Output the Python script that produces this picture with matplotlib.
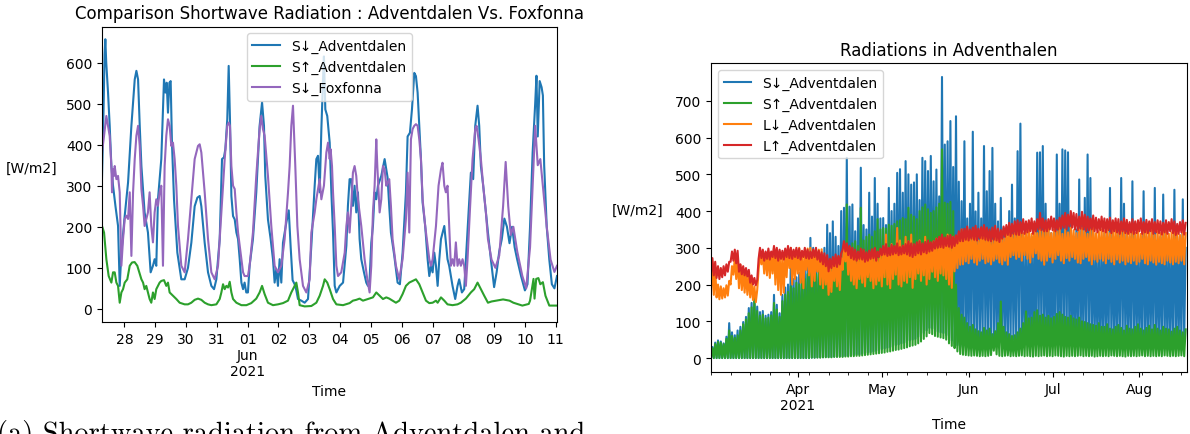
import numpy as np
import matplotlib
matplotlib.use("Agg")
import matplotlib.pyplot as plt

# ------------------------------------------------------------------
# Left panel: (hours since 2021-05-28 00:00, W/m2)
# ------------------------------------------------------------------
sd_adventdalen = [
    (-17.5, 320), (-16.5, 450), (-15.5, 620), (-14.9, 657), (-14.2, 600), (-12.8, 527), (-11.5, 446),
    (-10.2, 348), (-8.9, 300), (-7.0, 250), (-5.0, 202), (-3.7, 56), (-2.4, 137), (0.2, 227), (2.8, 308),
    (5.4, 446), (8.0, 559), (9.3, 580), (10.6, 559), (11.9, 446), (13.2, 348), (14.5, 290), (15.7, 235),
    (18.3, 186), (20.4, 89), (22.2, 105), (23.5, 121), (24.8, 105), (26.1, 267), (28.7, 365), (30.8, 559),
    (31.9, 527), (32.9, 551), (33.9, 478), (35.0, 551), (36.0, 555), (37.0, 405), (38.6, 267), (41.2, 137),
    (44.3, 72), (46.9, 72), (49.5, 100), (52.1, 161), (54.7, 250), (56.8, 271), (58.6, 275), (59.9, 250),
    (62.5, 161), (65.1, 89), (67.7, 56), (69.8, 48), (71.6, 72), (74.2, 170), (76.0, 365), (77.5, 369),
    (78.6, 389), (80.1, 462), (81.2, 592), (82.2, 462), (83.3, 275), (84.6, 226), (85.9, 218), (87.2, 186),
    (88.5, 170), (89.8, 121), (91.1, 64), (92.4, 48), (93.6, 64), (94.9, 40), (96.2, 40), (97.5, 105),
    (100.1, 170), (102.7, 284), (105.3, 446), (107.2, 503), (108.7, 446), (109.7, 324), (111.8, 218),
    (113.9, 170), (115.7, 121), (117.0, 64), (118.3, 97), (119.6, 56), (120.9, 121), (122.2, 64),
    (123.5, 161), (126.1, 210), (128.0, 240), (129.5, 150), (131.0, 70), (132.6, 60), (133.9, 45),
    (135.2, 24), (137.8, 20), (140.4, 15), (143.0, 24), (145.6, 154), (148.2, 300), (149.5, 365),
    (150.8, 373), (152.1, 284), (153.4, 437), (154.7, 559), (155.4, 615), (156.5, 486), (158.0, 470),
    (159.9, 405), (161.2, 284), (162.5, 186), (163.8, 56), (165.1, 40), (166.4, 48), (167.7, 56),
    (170.3, 64), (172.9, 154), (174.1, 251), (175.4, 316), (176.7, 316), (178.0, 251), (179.3, 300),
    (180.6, 235), (181.9, 284), (183.2, 170), (184.5, 121), (186.6, 89), (188.4, 64), (189.7, 56),
    (191.0, 72), (192.3, 161), (193.6, 202), (194.9, 284), (196.2, 267), (197.5, 300), (200.1, 324),
    (202.7, 365), (205.0, 320), (206.3, 250), (207.6, 186), (210.2, 130), (212.8, 64), (214.6, 60),
    (216.7, 137), (219.3, 284), (220.6, 420), (222.4, 429), (224.0, 486), (225.8, 575), (227.1, 567),
    (228.4, 527), (229.7, 446), (231.0, 365), (232.3, 259), (234.3, 202), (236.2, 121), (237.5, 80),
    (238.8, 105), (240.1, 89), (241.4, 137), (242.7, 105), (244.0, 56), (245.3, 121), (246.6, 170),
    (249.2, 202), (251.7, 121), (253.0, 105), (255.6, 56), (257.7, 24), (259.5, 56), (260.8, 72),
    (262.9, 40), (264.7, 48), (266.0, 121), (268.1, 235), (269.9, 332), (271.7, 316), (273.3, 446),
    (275.1, 495), (276.4, 446), (277.7, 348), (279.5, 300), (281.6, 235), (283.2, 186), (285.5, 120),
    (288.0, 53), (290.0, 90), (292.0, 140), (294.0, 170), (296.0, 220), (298.0, 200), (300.0, 160),
    (302.0, 200), (304.0, 150), (306.0, 120), (309.0, 80), (312.0, 45), (314.0, 60), (316.0, 200),
    (318.0, 380), (320.0, 500), (321.0, 568), (322.0, 420), (323.5, 555), (325.0, 540), (326.0, 520),
    (327.0, 350), (329.0, 200), (331.0, 120), (333.0, 60), (335.0, 50), (337.0, 80),
]

su_adventdalen = [
    (-17.5, 202), (-15.9, 186), (-14.1, 121), (-12.3, 80), (-10.2, 64), (-8.9, 89), (-7.6, 89), (-6.3, 64),
    (-5.0, 56), (-3.7, 15), (-2.4, 40), (-1.1, 48), (0.2, 64), (2.2, 72), (4.1, 105), (5.9, 113), (7.9, 114),
    (10.0, 105), (11.9, 85), (13.2, 72), (14.5, 64), (15.7, 48), (17.0, 56), (18.3, 40), (19.6, 24),
    (20.9, 15), (22.2, 40), (23.5, 24), (24.8, 48), (26.1, 56), (27.4, 64), (28.7, 68), (30.8, 70),
    (32.6, 56), (33.9, 64), (35.2, 40), (37.8, 32), (40.4, 24), (43.0, 15), (46.9, 11), (49.5, 11),
    (52.1, 15), (54.7, 22), (57.3, 25), (59.9, 22), (62.5, 15), (65.1, 11), (67.7, 9), (71.6, 11),
    (74.2, 24), (75.5, 40), (76.8, 60), (78.1, 48), (79.4, 56), (80.7, 52), (82.0, 66), (83.3, 40),
    (84.6, 24), (87.2, 15), (91.1, 9), (95.0, 9), (98.8, 14), (102.7, 25), (105.3, 40), (107.2, 56),
    (109.2, 36), (111.8, 15), (115.7, 9), (119.6, 11), (123.5, 14), (127.4, 20), (130.0, 40), (132.6, 56),
    (133.9, 64), (135.2, 40), (136.5, 9), (140.4, 6), (145.6, 7), (149.5, 15), (152.1, 32), (154.7, 56),
    (156.0, 72), (158.0, 64), (159.9, 48), (162.5, 24), (165.1, 11), (170.3, 9), (175.4, 14), (178.0, 20),
    (180.6, 22), (183.2, 25), (185.8, 20), (189.7, 24), (193.6, 28), (196.2, 40), (198.8, 32), (201.4, 24),
    (204.0, 28), (206.3, 25), (208.9, 20), (211.5, 15), (214.1, 20), (216.7, 36), (219.3, 56), (221.9, 64),
    (224.5, 68), (227.1, 72), (229.7, 60), (232.3, 40), (234.9, 20), (237.5, 14), (240.1, 15), (242.7, 20),
    (244.0, 15), (246.6, 28), (249.2, 20), (251.7, 11), (255.6, 9), (259.5, 11), (262.1, 15), (266.0, 25),
    (269.9, 40), (272.5, 48), (275.1, 64), (277.7, 48), (280.3, 32), (283.2, 15), (286.0, 18), (289.5, 20),
    (295.0, 23), (300.0, 20), (303.0, 15), (306.0, 12), (310.0, 8), (315.0, 12), (316.0, 20), (317.5, 49),
    (318.7, 73), (319.5, 25), (320.8, 73), (322.5, 75), (324.0, 60), (326.0, 65), (328.0, 32), (331.0, 8),
    (337.0, 8),
]

sd_foxfonna = [
    (-17.5, 381), (-16.2, 414), (-14.1, 470), (-12.8, 446), (-11.5, 421), (-10.2, 348), (-9.7, 284),
    (-8.9, 340), (-8.1, 324), (-7.6, 348), (-6.3, 316), (-5.0, 324), (-3.7, 284), (-2.4, 105), (-1.1, 170),
    (0.2, 219), (1.5, 227), (2.8, 219), (4.1, 284), (5.4, 129), (6.7, 284), (8.0, 365), (9.3, 422),
    (10.6, 446), (11.9, 397), (13.2, 292), (14.5, 251), (15.7, 202), (17.0, 219), (18.3, 235), (19.6, 284),
    (20.9, 202), (22.2, 162), (23.5, 235), (24.8, 267), (26.1, 251), (27.4, 284), (28.7, 300), (30.0, 105),
    (31.3, 348), (32.6, 422), (33.9, 462), (35.2, 446), (36.5, 397), (37.8, 405), (39.1, 365), (40.4, 300),
    (41.7, 202), (44.3, 105), (46.9, 89), (49.5, 170), (52.1, 267), (54.7, 365), (57.3, 397), (58.6, 401),
    (59.9, 381), (62.5, 284), (65.1, 170), (67.7, 89), (70.3, 72), (72.9, 105), (75.5, 235), (78.1, 365),
    (80.1, 446), (81.2, 454), (82.2, 446), (83.3, 348), (84.6, 300), (85.9, 292), (87.2, 235), (88.5, 186),
    (91.1, 121), (92.4, 89), (93.6, 80), (96.2, 80), (97.5, 105), (100.1, 186), (102.7, 324), (105.3, 438),
    (106.6, 470), (107.9, 438), (109.2, 422), (111.8, 324), (114.4, 202), (117.0, 105), (119.6, 89),
    (122.2, 105), (124.8, 170), (127.4, 283), (128.7, 348), (130.0, 446), (131.3, 495), (132.1, 430),
    (133.1, 348), (134.7, 202), (136.5, 121), (139.1, 56), (141.7, 40), (144.3, 72), (145.6, 186),
    (146.9, 210), (148.2, 235), (149.5, 267), (152.1, 316), (153.4, 267), (155.4, 300), (157.3, 381),
    (158.6, 405), (159.9, 365), (160.6, 389), (161.7, 348), (162.5, 284), (163.8, 202), (165.1, 105),
    (166.4, 80), (168.9, 89), (171.6, 137), (172.9, 202), (174.1, 235), (175.4, 186), (176.7, 251),
    (178.0, 332), (179.3, 348), (180.6, 324), (181.9, 267), (184.5, 202), (187.1, 121), (189.2, 72),
    (191.0, 40), (192.3, 105), (193.6, 235), (194.9, 300), (196.2, 413), (197.0, 348), (198.8, 235),
    (200.1, 267), (201.4, 348), (202.7, 340), (204.0, 300), (205.0, 308), (206.3, 316), (207.6, 251),
    (208.9, 170), (211.5, 105), (214.1, 72), (216.7, 121), (219.3, 219), (220.6, 332), (221.9, 186),
    (223.2, 413), (224.5, 438), (225.8, 446), (227.1, 450), (228.4, 446), (229.7, 413), (231.0, 365),
    (232.3, 267), (234.3, 202), (236.2, 154), (237.5, 121), (238.8, 105), (240.1, 121), (241.4, 162),
    (242.7, 202), (244.7, 300), (246.6, 340), (247.8, 356), (249.2, 300), (250.4, 284), (251.7, 300),
    (253.0, 202), (254.3, 105), (255.6, 121), (256.9, 105), (258.2, 162), (259.5, 105), (260.8, 121),
    (262.1, 105), (263.4, 121), (264.7, 105), (266.0, 56), (267.3, 121), (269.2, 243), (271.2, 365),
    (273.3, 438), (274.3, 446), (275.9, 413), (277.7, 365), (279.5, 300), (281.6, 235), (283.2, 170),
    (286.0, 120), (289.0, 100), (292.0, 130), (295.0, 250), (297.0, 358), (299.0, 250), (301.0, 180),
    (303.0, 200), (306.0, 140), (310.0, 80), (313.0, 50), (316.0, 150), (318.0, 300), (320.0, 446),
    (322.0, 350), (324.0, 365), (326.0, 300), (329.0, 200), (332.0, 120), (335.0, 90), (337.0, 105),
]

left_day_labels = ["28", "29", "30", "31", "01\nJun\n2021", "02", "03", "04", "05", "06",
                   "07", "08", "09", "10", "11"]

# ------------------------------------------------------------------
# Right panel: daily minimum / maximum, one value per day from 2021-03-01
# ------------------------------------------------------------------
s_down_max = [
    30, 42, 48, 45, 40, 58, 95, 70, 62, 75,
    85, 98, 112, 136, 150, 170, 140, 125, 128, 115,
    118, 125, 172, 145, 122, 172, 192, 200, 263, 215,
    220, 232, 218, 240, 262, 327, 300, 252, 245, 282,
    300, 363, 340, 372, 330, 305, 400, 409, 545, 412,
    418, 345, 380, 518, 362, 350, 450, 385, 490, 420,
    380, 381, 362, 463, 400, 420, 504, 514, 450, 536,
    500, 472, 478, 500, 430, 545, 536, 509, 550, 481,
    513, 440, 765, 581, 590, 645, 520, 658, 480, 427,
    590, 380, 420, 616, 399, 450, 380, 577, 454, 509,
    572, 420, 372, 436, 354, 330, 400, 472, 380, 563,
    638, 336, 300, 340, 330, 320, 559, 560, 577, 420,
    360, 340, 350, 554, 420, 568, 565, 560, 380, 330,
    350, 486, 360, 436, 554, 490, 340, 300, 320, 310,
    340, 330, 463, 350, 330, 360, 490, 420, 350, 330,
    481, 340, 320, 300, 454, 330, 350, 340, 463, 320,
    330, 445, 310, 320, 300, 458, 330, 310, 432, 300,
]
s_down_min = [
    0, 0, 0, 0, 0, 0, 0, 0, 0, 0,
    0, 0, 0, 0, 0, 0, 0, 0, 0, 0,
    0, 0, 0, 0, 0, 0, 0, 0, 0, 0,
    0, 0, 0, 0, 0, 0, 1, 1, 2, 2,
    2, 3, 3, 3, 4, 4, 5, 5, 6, 6,
    8, 8, 10, 10, 12, 13, 15, 16, 18, 20,
    22, 24, 26, 28, 30, 32, 35, 37, 40, 42,
    45, 48, 50, 52, 58, 62, 68, 75, 82, 80,
    75, 72, 70, 68, 62, 55, 48, 40, 35, 30,
    32, 35, 40, 38, 45, 42, 50, 48, 40, 45,
    50, 42, 38, 45, 52, 48, 40, 45, 50, 42,
    48, 55, 45, 40, 50, 48, 42, 52, 45, 50,
    48, 40, 45, 52, 48, 42, 50, 45, 40, 48,
    52, 45, 40, 48, 50, 42, 45, 52, 48, 40,
    45, 50, 42, 48, 40, 45, 52, 48, 42, 45,
    40, 48, 45, 50, 42, 40, 48, 45, 52, 40,
    45, 42, 48, 40, 45, 50, 42, 40, 45, 48,
]
s_up_max = [
    27, 38, 44, 42, 38, 52, 75, 60, 55, 62,
    75, 92, 105, 122, 138, 160, 128, 115, 118, 108,
    110, 116, 150, 132, 112, 155, 172, 180, 195, 190,
    205, 200, 210, 215, 228, 240, 232, 228, 242, 250,
    258, 255, 262, 265, 270, 275, 280, 288, 418, 300,
    312, 318, 305, 409, 320, 330, 336, 330, 345, 378,
    350, 354, 352, 363, 360, 365, 372, 375, 381, 378,
    409, 390, 385, 378, 400, 410, 418, 405, 395, 400,
    410, 420, 568, 423, 420, 425, 400, 200, 136, 118,
    110, 95, 85, 90, 78, 73, 70, 82, 75, 80,
    65, 73, 95, 154, 85, 70, 65, 60, 62, 70,
    80, 95, 127, 108, 110, 125, 130, 115, 118, 110,
    115, 108, 112, 120, 125, 118, 112, 110, 115, 108,
    105, 110, 100, 98, 95, 92, 90, 88, 95, 85,
    85, 92, 80, 78, 85, 90, 82, 75, 88, 80,
    78, 85, 92, 80, 75, 82, 88, 78, 90, 80,
    75, 85, 80, 78, 72, 80, 85, 75, 70, 78,
]
s_up_min = [
    0, 0, 0, 0, 0, 0, 0, 0, 0, 0,
    0, 0, 0, 0, 0, 0, 0, 0, 0, 0,
    0, 0, 0, 0, 0, 0, 0, 0, 0, 0,
    0, 0, 0, 0, 0, 0, 1, 1, 1, 1,
    2, 2, 2, 2, 3, 3, 3, 3, 4, 4,
    5, 5, 6, 6, 7, 8, 9, 10, 11, 12,
    13, 14, 15, 17, 18, 20, 22, 23, 25, 27,
    29, 32, 34, 36, 40, 45, 52, 59, 68, 65,
    60, 58, 56, 54, 50, 40, 33, 27, 18, 11,
    9, 8, 7, 6, 7, 6, 5, 6, 5, 6,
    8, 20, 10, 6, 5, 6, 7, 5, 6, 5,
    6, 7, 5, 6, 5, 4, 6, 5, 6, 7,
    5, 6, 5, 7, 6, 5, 4, 6, 5, 6,
    5, 6, 7, 5, 6, 5, 6, 4, 5, 6,
    5, 6, 5, 7, 6, 5, 6, 5, 4, 6,
    5, 6, 5, 6, 7, 5, 6, 5, 6, 5,
    6, 5, 7, 6, 5, 6, 5, 6, 7, 5,
]
l_down_max = [
    262, 240, 200, 195, 190, 198, 210, 250, 272, 268,
    254, 240, 232, 228, 209, 195, 185, 290, 285, 282,
    288, 281, 300, 295, 290, 282, 288, 298, 300, 290,
    295, 300, 285, 290, 298, 300, 292, 288, 295, 296,
    272, 265, 245, 262, 270, 268, 272, 309, 305, 300,
    290, 285, 270, 282, 291, 278, 285, 280, 290, 270,
    285, 300, 336, 290, 310, 300, 354, 320, 305, 330,
    318, 336, 300, 310, 320, 305, 330, 312, 300, 318,
    325, 310, 330, 320, 336, 315, 330, 320, 340, 350,
    330, 355, 325, 340, 330, 320, 345, 330, 335, 327,
    320, 330, 335, 340, 325, 345, 355, 336, 340, 350,
    355, 340, 345, 352, 338, 355, 340, 350, 345, 352,
    355, 340, 350, 345, 355, 338, 350, 342, 355, 348,
    340, 350, 355, 345, 338, 350, 355, 340, 345, 350,
    345, 352, 340, 348, 355, 342, 350, 345, 340, 348,
    345, 340, 350, 338, 345, 350, 342, 348, 335, 345,
    340, 345, 350, 338, 342, 345, 340, 335, 345, 340,
]
l_down_min = [
    180, 172, 165, 160, 162, 165, 170, 200, 227, 215,
    190, 185, 178, 172, 165, 158, 152, 240, 255, 230,
    225, 218, 230, 200, 185, 172, 178, 220, 245, 200,
    215, 230, 205, 190, 240, 225, 195, 210, 235, 200,
    190, 200, 172, 180, 210, 195, 185, 240, 263, 227,
    210, 200, 190, 215, 205, 195, 220, 210, 190, 200,
    210, 195, 220, 200, 190, 215, 227, 200, 195, 210,
    205, 220, 191, 215, 230, 210, 225, 200, 215, 235,
    220, 210, 230, 225, 215, 200, 191, 236, 245, 254,
    255, 263, 258, 270, 260, 254, 265, 270, 258, 262,
    255, 265, 270, 260, 255, 265, 254, 275, 280, 270,
    275, 265, 280, 270, 260, 275, 285, 270, 265, 254,
    265, 275, 260, 270, 280, 265, 258, 272, 265, 275,
    270, 260, 258, 270, 275, 265, 255, 268, 262, 270,
    265, 258, 270, 262, 255, 268, 260, 265, 255, 262,
    258, 265, 255, 262, 270, 258, 255, 265, 260, 254,
    262, 258, 255, 265, 260, 255, 262, 258, 265, 255,
]
l_up_max = [
    272, 262, 250, 245, 250, 255, 262, 290, 295, 292,
    255, 250, 245, 240, 225, 218, 212, 300, 295, 290,
    298, 290, 305, 300, 295, 292, 298, 305, 300, 295,
    300, 298, 292, 300, 295, 290, 296, 300, 292, 288,
    285, 280, 270, 275, 282, 278, 285, 318, 312, 305,
    300, 295, 290, 298, 295, 288, 292, 296, 300, 290,
    298, 305, 310, 300, 308, 305, 312, 302, 306, 310,
    318, 312, 310, 315, 318, 312, 316, 320, 315, 318,
    325, 330, 336, 328, 332, 335, 330, 334, 345, 350,
    352, 358, 350, 355, 360, 352, 356, 362, 355, 350,
    355, 360, 352, 348, 358, 362, 368, 365, 372, 375,
    370, 378, 372, 375, 380, 372, 378, 395, 380, 375,
    378, 385, 380, 375, 382, 388, 395, 390, 400, 395,
    392, 385, 398, 390, 385, 380, 388, 382, 378, 385,
    380, 378, 382, 375, 380, 378, 372, 380, 376, 370,
    378, 372, 375, 380, 370, 376, 372, 378, 370, 375,
    372, 368, 375, 370, 378, 372, 365, 370, 375, 368,
]
l_up_min = [
    230, 225, 218, 215, 220, 225, 235, 262, 265, 258,
    235, 228, 225, 222, 205, 200, 198, 270, 272, 265,
    270, 268, 275, 272, 265, 270, 268, 275, 272, 270,
    275, 272, 268, 275, 272, 270, 272, 275, 268, 262,
    255, 250, 236, 245, 250, 248, 255, 295, 290, 280,
    272, 268, 265, 270, 268, 262, 265, 270, 272, 265,
    275, 280, 282, 278, 280, 282, 285, 280, 282, 285,
    282, 278, 275, 280, 285, 282, 288, 285, 290, 292,
    298, 300, 302, 300, 305, 303, 300, 305, 312, 318,
    318, 322, 320, 325, 322, 320, 326, 325, 322, 320,
    318, 322, 320, 316, 325, 330, 335, 332, 338, 336,
    335, 340, 338, 342, 345, 338, 345, 350, 348, 345,
    345, 350, 348, 345, 350, 352, 355, 350, 358, 355,
    350, 348, 352, 350, 345, 348, 350, 345, 342, 348,
    345, 342, 348, 340, 345, 342, 338, 345, 340, 338,
    342, 338, 340, 345, 338, 342, 340, 345, 338, 342,
    340, 336, 342, 338, 345, 340, 335, 338, 342, 336,
]

right_month_ticks = ["2021-04-01", "2021-05-01", "2021-06-01", "2021-07-01", "2021-08-01"]
right_month_labels = ["Apr\n2021", "May", "Jun", "Jul", "Aug"]

C_BLUE, C_ORANGE, C_GREEN, C_RED, C_PURPLE = "#1f77b4", "#ff7f0e", "#2ca02c", "#d62728", "#9467bd"

# ------------------------------------------------------------------
fig = plt.figure(figsize=(11.9, 4.35), dpi=100)
W, H = 1190.0, 435.0


def to_time(base, hours):
    return base + (np.asarray(hours, dtype=float) * 60).round().astype("timedelta64[m]")


# ---------------- left panel ----------------
axL = fig.add_axes([102 / W, 1 - 323 / H, 455 / W, 295.5 / H])
base_left = np.datetime64("2021-05-28T00:00")

for series, color, label in [(sd_adventdalen, C_BLUE, "S\u2193_Adventdalen"),
                             (su_adventdalen, C_GREEN, "S\u2191_Adventdalen"),
                             (sd_foxfonna, C_PURPLE, "S\u2193_Foxfonna")]:
    hrs = [p[0] for p in series]
    vals = [p[1] for p in series]
    axL.plot(to_time(base_left, hrs), vals, color=color, lw=1.5, label=label)

axL.set_xlim(to_time(base_left, [-17.5])[0], to_time(base_left, [337.0])[0])
axL.set_ylim(-32, 688)
day_ticks = [base_left + np.timedelta64(i, "D") for i in range(len(left_day_labels))]
axL.set_xticks(day_ticks, left_day_labels)
axL.set_yticks([0, 100, 200, 300, 400, 500, 600])
axL.set_title("Comparison Shortwave Radiation : Adventdalen Vs. Foxfonna")
axL.set_xlabel("Time")
axL.set_ylabel("[W/m2]", rotation=0, ha="right", va="center")
axL.yaxis.set_label_coords(-0.097, 0.52)
axL.legend(loc="upper center")

# ---------------- right panel ----------------
axR = fig.add_axes([711 / W, 1 - 373 / H, 476 / W, 309 / H])
base_right = np.datetime64("2021-03-01T00:00")
n_days = len(s_down_max)
days = np.arange(n_days)
hours_zig = np.empty(2 * n_days)
hours_zig[0::2] = days * 24.0          # night-time minimum
hours_zig[1::2] = days * 24.0 + 12.0   # midday maximum
t_zig = to_time(base_right, hours_zig)


def zig(mins, maxs):
    out = np.empty(2 * len(mins))
    out[0::2] = mins
    out[1::2] = maxs
    return out


axR.plot(t_zig, zig(s_down_min, s_down_max), color=C_BLUE, lw=1.5, label="S\u2193_Adventdalen")
axR.plot(t_zig, zig(s_up_min, s_up_max), color=C_GREEN, lw=1.5, label="S\u2191_Adventdalen")
axR.plot(t_zig, zig(l_down_min, l_down_max), color=C_ORANGE, lw=1.5, label="L\u2193_Adventdalen")
axR.plot(t_zig, zig(l_up_min, l_up_max), color=C_RED, lw=1.5, label="L\u2191_Adventdalen")

axR.set_xlim(base_right, base_right + np.timedelta64(n_days, "D"))
axR.set_ylim(-38, 803)
axR.set_xticks([np.datetime64(d) for d in right_month_ticks], right_month_labels)
mondays = [base_right + np.timedelta64(7 * k, "D") for k in range(25)]
axR.set_xticks(mondays, minor=True)
axR.set_yticks([0, 100, 200, 300, 400, 500, 600, 700])
axR.set_title("Radiations in Adventhalen")
axR.set_xlabel("Time")
axR.set_ylabel("[W/m2]", rotation=0, ha="right", va="center")
axR.yaxis.set_label_coords(-0.101, 0.524)
axR.legend(loc="upper left")

# ---------------- caption, cut by the bottom edge as in the reference ----------------
fig.text(-3 / W, 1 - 442.5 / H, "(a) Shortwave radiation from Adventdalen and",
         fontfamily="cmr10", fontsize=20.5, ha="left", va="baseline")

fig.savefig("out.png", dpi=100)
